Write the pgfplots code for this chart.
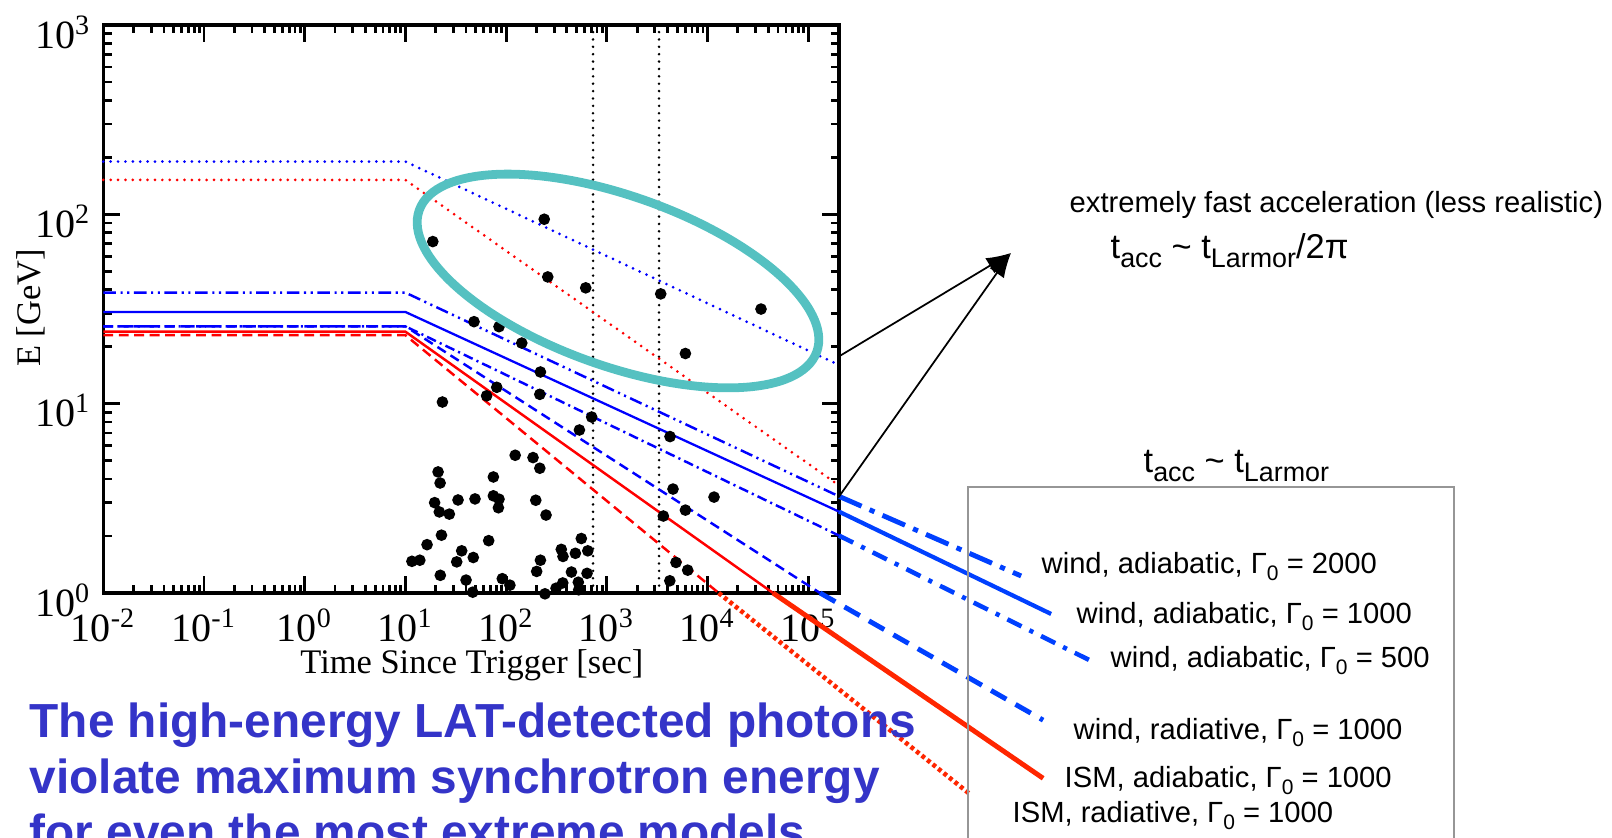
\documentclass[border=0pt]{standalone}
\usepackage{fontspec}
\setmainfont{Liberation Serif}
\newfontfamily\arial{Liberation Sans}
\usepackage{graphicx}
\usepackage{pgfplots}
\pgfplotsset{compat=1.18}
\usetikzlibrary{arrows.meta}

\definecolor{ringteal}{RGB}{85,193,193}
\definecolor{slideblue}{RGB}{52,52,200}
\definecolor{boxgray}{RGB}{150,150,150}
\definecolor{lineblue}{RGB}{0,0,255}
\definecolor{linered}{RGB}{255,0,0}
\definecolor{extblue}{RGB}{0,64,255}
\definecolor{extred}{RGB}{255,38,0}

% lowered, smaller subscripts as used in the slide labels
\newcommand{\lo}[1]{\raisebox{-0.42ex}{\scalebox{0.72}{#1}}}
\newcommand{\lob}[1]{\raisebox{-0.45ex}{\scalebox{0.78}{#1}}}

\tikzset{
  fastdot/.style={line width=0.85pt, line cap=round, dash pattern=on 0pt off 2.1pt},
  ddot/.style={line width=0.7pt, dash pattern=on 3.6pt off 1.3pt on 0.6pt off 1.3pt on 0.6pt off 1.3pt},
  dshdot/.style={line width=0.7pt, dash pattern=on 2.8pt off 1.2pt on 0.6pt off 1.2pt},
  dsh/.style={line width=0.7pt, dash pattern=on 2.8pt off 1.6pt},
  labelfont/.style={font=\arial\fontsize{8.3}{10}\selectfont, inner sep=0pt, anchor=base west},
  taccfont/.style={font=\arial\fontsize{9.8}{11}\selectfont, inner sep=0pt, anchor=base west},
}

\pgfplotstableread{
t      E
18.7   71.8
239    94.2
259    46.7
617    40.9
3427   38.0
33960  31.6
6026   18.4
48     27.1
85     25.5
143    20.9
219    14.7
80.7   12.2
64     11.0
216    11.2
23.3   10.2
707    8.5
534    7.26
4240   6.7
123    5.34
185    5.19
216    4.56
21.1   4.36
22.1   3.81
74.7   4.10
19.5   3.0
33.3   3.10
49.1   3.14
74.7   3.26
85     3.13
83.8   2.82
21.7   2.68
27.3   2.61
197    3.09
249    2.58
22.8   2.02
16.4   1.80
67.1   1.89
11.6   1.47
13.9   1.49
36.2   1.67
32.3   1.46
47.2   1.54
22.2   1.24
40.0   1.17
46.6   1.01
91.6   1.19
109    1.10
201    1.30
219    1.49
243    0.99
353    1.70
367    1.56
313    1.06
365    1.13
445    1.29
487    1.62
558    1.94
647    1.67
636    1.27
521    1.14
526    1.04
4540   3.54
11600  3.21
6030   2.74
3640   2.55
4860   1.45
6350   1.32
4220   1.16
}\photons

\begin{document}
\begin{tikzpicture}[x=1cm,y=1cm]
\useasboundingbox (0,0) rectangle (16.12,8.38);
\clip (0,0) rectangle (16.12,8.38);

\begin{axis}[
  at={(1.033cm,2.45cm)}, anchor=south west,
  scale only axis, width=7.357cm, height=5.68cm,
  xmode=log, ymode=log,
  xmin=0.01, xmax=2.02e5, ymin=1, ymax=1000,
  clip=false,
  axis line style={line width=0.9pt},
  every tick/.style={black, line width=0.8pt},
  major tick length=4.8pt, minor tick length=2.4pt,
  tick align=inside,
  xtick={1e-2,1e-1,1,10,100,1000,1e4,1e5},
  xticklabels={10\textsuperscript{-2},10\textsuperscript{-1},10\textsuperscript{0},10\textsuperscript{1},10\textsuperscript{2},10\textsuperscript{3},10\textsuperscript{4},10\textsuperscript{5}},
  minor xtick={0.02,0.03,0.04,0.05,0.06,0.07,0.08,0.09,0.2,0.3,0.4,0.5,0.6,0.7,0.8,0.9,2,3,4,5,6,7,8,9,20,30,40,50,60,70,80,90,200,300,400,500,600,700,800,900,2000,3000,4000,5000,6000,7000,8000,9000,20000,30000,40000,50000,60000,70000,80000,90000},
  ytick={1,10,100,1000},
  yticklabels={10\textsuperscript{0},10\textsuperscript{1},10\textsuperscript{2},10\textsuperscript{3}},
  minor ytick={2,3,4,5,6,7,8,9,20,30,40,50,60,70,80,90,200,300,400,500,600,700,800,900},
  tick label style={font=\fontsize{11.4}{12}\selectfont},
  xticklabel style={yshift=-1pt},
  yticklabel style={yshift=-2pt},
  xlabel={Time Since Trigger [sec]},
  ylabel={E [GeV]},
  label style={font=\fontsize{9.8}{11}\selectfont},
  xlabel style={at={(axis description cs:0.501,-0.127)}, anchor=center},
  ylabel style={at={(axis description cs:-0.0983,0.502)}, anchor=center},
]
% arrival-time windows
\addplot[black, line width=0.8pt, line cap=round, dash pattern=on 0pt off 2.1pt] coordinates {(730,1) (730,1000)};
\addplot[black, line width=0.8pt, line cap=round, dash pattern=on 0pt off 2.1pt] coordinates {(3300,1) (3300,1000)};

% t_acc ~ t_Larmor / 2 pi
\addplot[lineblue, fastdot] coordinates {(0.01,190) (10,190) (2.02e5,16.0)};
\addplot[linered, fastdot] coordinates {(0.01,152) (10,152) (2.02e5,3.70)};

% t_acc ~ t_Larmor, inside the frame
\addplot[lineblue, ddot] coordinates {(0.01,38.6) (10,38.6) (2.02e5,3.24)};
\addplot[lineblue, line width=0.65pt] coordinates {(0.01,30.5) (10,30.5) (2.02e5,2.69)};
\addplot[lineblue, dshdot] coordinates {(0.01,25.6) (10,25.6) (2.02e5,2.01)};
\addplot[lineblue, dsh] coordinates {(0.01,25.6) (10,25.6) (1.31e5,1)};
\addplot[linered, line width=0.7pt] coordinates {(0.01,24) (10,24) (4.47e4,1)};
\addplot[linered, dsh] coordinates {(0.01,23) (10,23) (1.29e4,1)};

% the same models continued to their labels
\addplot[extblue, line width=1.4pt, dash pattern=on 7pt off 2.5pt on 1.5pt off 2.5pt] coordinates {(2.02e5,3.24) (1.30e7,1.23)};
\addplot[extblue, line width=1.2pt] coordinates {(2.02e5,2.69) (2.58e7,0.775)};
\addplot[extblue, line width=1.3pt, dash pattern=on 4.5pt off 2.5pt on 1.2pt off 2.5pt] coordinates {(2.02e5,2.01) (7.06e7,0.427)};
\addplot[extblue, line width=1.4pt, dash pattern=on 5pt off 3pt] coordinates {(1.31e5,1) (2.15e7,0.213)};
\addplot[extred, line width=1.4pt] coordinates {(4.47e4,1) (2.15e7,0.105)};
\addplot[extred, line width=1.3pt, dash pattern=on 1.1pt off 0.9pt] coordinates {(1.29e4,1) (4.14e6,0.0857)};

% LAT photons
\addplot[only marks, mark=*, mark size=1.45pt, black] table[x=t, y=E] {\photons};
\end{axis}

% ring around the photons above the maximum energy
\draw[ringteal, line width=2.5pt, rotate around={-19.6:(6.18,5.57)}] (6.18,5.57) ellipse [x radius=2.11, y radius=0.85];

% arrows to the fast-acceleration note
\draw[-{Latex[length=7pt,width=5pt]}, line width=0.5pt] (8.38,4.81) -- (10.11,5.85);
\draw[-{Latex[length=7pt,width=5pt]}, line width=0.5pt] (8.38,3.40) -- (10.11,5.85);

\node[labelfont] at (10.69,6.25) {extremely fast acceleration (less realistic)};
\node[taccfont] at (11.10,5.79) {t\lob{acc} \textasciitilde{} t\lob{Larmor}/2π};
\node[taccfont] at (11.43,3.65) {t\lob{acc} \textasciitilde{} t\lob{Larmor}};

% legend box
\draw[boxgray, line width=0.5pt] (9.68,-0.2) rectangle (14.54,3.51);
\node[labelfont] at (10.41,2.64) {wind, adiabatic, Γ\lo{0} = 2000};
\node[labelfont] at (10.76,2.14) {wind, adiabatic, Γ\lo{0} = 1000};
\node[labelfont] at (11.10,1.70) {wind, adiabatic, Γ\lo{0} = 500};
\node[labelfont] at (10.73,0.98) {wind, radiative, Γ\lo{0} = 1000};
\node[labelfont] at (10.64,0.50) {ISM, adiabatic, Γ\lo{0} = 1000};
\node[labelfont] at (10.12,0.15) {ISM, radiative, Γ\lo{0} = 1000};

% slide statement
\begin{scope}[every node/.style={font=\arial\bfseries\fontsize{13.6}{16}\selectfont, text=slideblue, inner sep=0pt, anchor=base west}]
\node at (0.29,1.00) {The high-energy LAT-detected photons};
\node at (0.29,0.44) {violate maximum synchrotron energy};
\node at (0.29,-0.11) {for even the most extreme models};
\end{scope}
\end{tikzpicture}
\end{document}
